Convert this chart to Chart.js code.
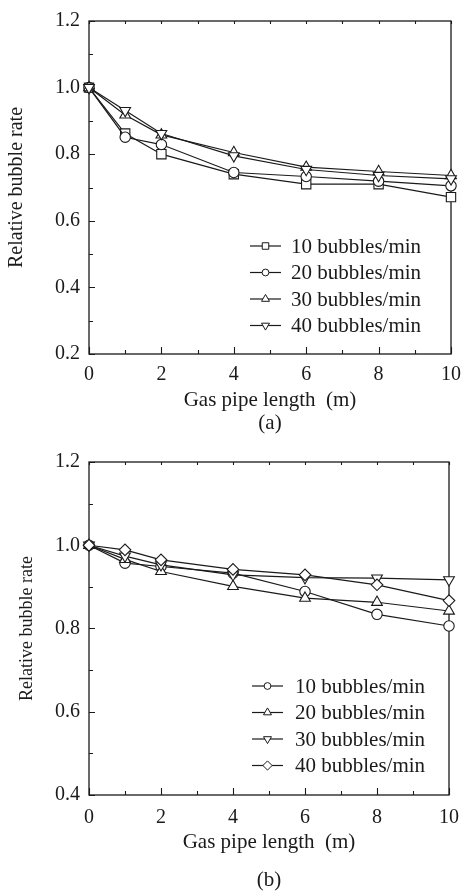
<!DOCTYPE html>
<html><head><meta charset="utf-8">
<script src="https://cdn.jsdelivr.net/npm/chart.js@4.4.1/dist/chart.umd.min.js"></script>
<style>
html,body{margin:0;padding:0;background:#fff;overflow:hidden;width:470px;height:895px;}
canvas{position:absolute;left:0;}
</style></head><body>
<canvas id="ca" width="470" height="440" style="top:0px"></canvas>
<canvas id="cb" width="470" height="470" style="top:430px"></canvas>
<script>
// ---------- data ----------
const xValues = [0, 1, 2, 4, 6, 8, 10];

const seriesLabelsA = ['10 bubbles/min', '20 bubbles/min', '30 bubbles/min', '40 bubbles/min'];
const a10 = [1.0, 0.862, 0.800, 0.740, 0.710, 0.710, 0.671];
const a20 = [1.0, 0.851, 0.829, 0.745, 0.733, 0.719, 0.705];
const a30 = [1.0, 0.918, 0.858, 0.805, 0.761, 0.748, 0.736];
const a40 = [1.0, 0.931, 0.862, 0.795, 0.754, 0.736, 0.726];

const seriesLabelsB = ['10 bubbles/min', '20 bubbles/min', '30 bubbles/min', '40 bubbles/min'];
const b10 = [1.0, 0.957, 0.949, 0.933, 0.889, 0.834, 0.806];
const b20 = [1.0, 0.966, 0.937, 0.901, 0.873, 0.863, 0.842];
const b30 = [1.0, 0.974, 0.953, 0.929, 0.922, 0.921, 0.917];
const b40 = [1.0, 0.989, 0.965, 0.942, 0.929, 0.905, 0.867];

const xTickLabels = [0, 2, 4, 6, 8, 10];
const yTickLabelsA = [0.2, 0.4, 0.6, 0.8, 1.0, 1.2];
const yTickLabelsB = [0.4, 0.6, 0.8, 1.0, 1.2];

const xTitle = 'Gas pipe length  (m)';
const yTitle = 'Relative bubble rate';
const panelA = '(a)';
const panelB = '(b)';

// ---------- styling ----------
const FONT = "'Liberation Serif','Times New Roman',serif";
const INK = '#1a1a1a';

function drawMarker(ctx, style, x, y, r) {
  ctx.beginPath();
  if (style === 'rect') {
    const s = r * Math.SQRT1_2;
    ctx.rect(x - s, y - s, 2 * s, 2 * s);
  } else if (style === 'circle') {
    ctx.arc(x, y, r, 0, Math.PI * 2);
  } else if (style === 'triUp') {
    ctx.moveTo(x, y - r);
    ctx.lineTo(x + r * 0.866, y + r / 2);
    ctx.lineTo(x - r * 0.866, y + r / 2);
    ctx.closePath();
  } else if (style === 'triDown') {
    ctx.moveTo(x, y + r);
    ctx.lineTo(x + r * 0.866, y - r / 2);
    ctx.lineTo(x - r * 0.866, y - r / 2);
    ctx.closePath();
  } else if (style === 'diamond') {
    ctx.moveTo(x, y - r);
    ctx.lineTo(x + r, y);
    ctx.lineTo(x, y + r);
    ctx.lineTo(x - r, y);
    ctx.closePath();
  }
  ctx.fill();
  ctx.stroke();
}

const frameTicks = {
  id: 'frameTicks',
  beforeDatasetsDraw(chart) {
    const ctx = chart.ctx;
    const a = chart.chartArea;
    const xs = chart.scales.x, ys = chart.scales.y;
    ctx.save();
    ctx.strokeStyle = INK;
    ctx.lineWidth = 1.3;
    ctx.strokeRect(a.left, a.top, a.right - a.left, a.bottom - a.top);
    ctx.lineWidth = 1.1;
    ctx.beginPath();
    // y ticks (left), every 0.1, major at 0.2
    for (let k = Math.round(ys.min * 10); k <= Math.round(ys.max * 10); k++) {
      const v = k / 10;
      const p = Math.round(ys.getPixelForValue(v)) + 0.5;
      const major = k % 2 === 0;
      ctx.moveTo(a.left, p);
      ctx.lineTo(a.left + (major ? 6 : 4), p);
    }
    // x ticks bottom & top, every 1, major at 2
    for (let k = Math.round(xs.min); k <= Math.round(xs.max); k++) {
      const p = Math.round(xs.getPixelForValue(k)) + 0.5;
      const major = k % 2 === 0;
      ctx.moveTo(p, a.bottom);
      ctx.lineTo(p, a.bottom - (major ? 7 : 4));
      ctx.moveTo(p, a.top);
      ctx.lineTo(p, a.top + 3);
    }
    ctx.stroke();
    ctx.restore();
  }
};

const lineLegend = {
  id: 'lineLegend',
  afterDraw(chart, args, opts) {
    const ctx = chart.ctx;
    ctx.save();
    ctx.font = opts.fontSize + 'px ' + FONT;
    ctx.textBaseline = 'middle';
    ctx.textAlign = 'left';
    chart.data.datasets.forEach((ds, i) => {
      const y = opts.y0 + i * opts.dy;
      ctx.strokeStyle = INK;
      ctx.lineWidth = 1.2;
      ctx.beginPath();
      ctx.moveTo(opts.x0, y);
      ctx.lineTo(opts.x1, y);
      ctx.stroke();
      ctx.fillStyle = '#fff';
      ctx.lineWidth = 1;
      const st = ds.markerKind;
      const r = st === 'circle' ? 3.4 : (st === 'rect' ? 4.6 : 4.6);
      drawMarker(ctx, st, (opts.x0 + opts.x1) / 2, y, r);
      ctx.fillStyle = INK;
      ctx.fillText(ds.label, opts.tx, y + 1);
    });
    ctx.restore();
  }
};

function makeDataset(label, values, kind, order) {
  const map = {
    rect: {pointStyle: 'rect', pointRadius: 6.6, pointRotation: 0},
    circle: {pointStyle: 'circle', pointRadius: 5.2, pointRotation: 0},
    triUp: {pointStyle: 'triangle', pointRadius: 6.2, pointRotation: 0},
    triDown: {pointStyle: 'triangle', pointRadius: 6.2, pointRotation: 180},
    diamond: {pointStyle: 'rectRot', pointRadius: 5.8, pointRotation: 0}
  };
  return Object.assign({
    label: label,
    markerKind: kind,
    data: xValues.map((x, i) => ({x: x, y: values[i]})),
    borderColor: INK,
    borderWidth: 1.2,
    pointBackgroundColor: '#fff',
    pointBorderColor: INK,
    pointBorderWidth: 1.1,
    tension: 0,
    fill: false,
    clip: false,
    order: order
  }, map[kind]);
}

function makeChart(canvasId, datasets, yMin, yMax, yTicks, panel, cfg) {
  return new Chart(document.getElementById(canvasId), {
    type: 'line',
    data: {datasets: datasets},
    plugins: [frameTicks, lineLegend],
    options: {
      responsive: false,
      animation: false,
      devicePixelRatio: 1,
      layout: {padding: cfg.padding},
      plugins: {
        legend: {display: false},
        tooltip: {enabled: false},
        lineLegend: cfg.legend
      },
      scales: {
        x: {
          type: 'linear', min: 0, max: 10,
          afterBuildTicks: s => { s.ticks = xTickLabels.map(v => ({value: v})); },
          afterFit: s => { s.height = cfg.xHeight; },
          grid: {display: false, drawTicks: false},
          border: {display: false},
          ticks: {
            autoSkip: false, maxRotation: 0,
            padding: cfg.xTickPad,
            color: INK,
            font: {family: FONT, size: 20, lineHeight: 1.2},
            callback: v => String(v)
          },
          title: {
            display: true,
            text: [xTitle, panel],
            color: INK,
            font: {family: FONT, size: 21, lineHeight: cfg.xTitleLH + 'px'},
            padding: {top: 0, bottom: 0}
          }
        },
        y: {
          type: 'linear', min: yMin, max: yMax,
          afterBuildTicks: s => { s.ticks = yTicks.map(v => ({value: v})); },
          afterFit: s => { s.width = 89; },
          grid: {display: false, drawTicks: false},
          border: {display: false},
          ticks: {
            padding: 9,
            color: INK,
            font: {family: FONT, size: 20, lineHeight: 1.2},
            callback: v => Number(v).toFixed(1)
          },
          title: {
            display: true,
            text: yTitle,
            color: INK,
            font: {family: FONT, size: cfg.yTitleSize, lineHeight: 1.2},
            padding: {top: cfg.yTitlePad, bottom: 0}
          }
        }
      }
    }
  });
}

makeChart('ca', [
  makeDataset(seriesLabelsA[0], a10, 'rect', 3),
  makeDataset(seriesLabelsA[1], a20, 'circle', 2),
  makeDataset(seriesLabelsA[2], a30, 'triUp', 1),
  makeDataset(seriesLabelsA[3], a40, 'triDown', 0)
], 0.2, 1.2, yTickLabelsA, panelA, {
  padding: {left: 0, right: 15, top: 14, bottom: 5},
  xHeight: 81, xTickPad: 9, xTitleLH: 23,
  yTitleSize: 20, yTitlePad: 5,
  legend: {x0: 250, x1: 281, tx: 291, y0: 246, dy: 26.5, fontSize: 21}
});

makeChart('cb', [
  makeDataset(seriesLabelsB[0], b10, 'circle', 3),
  makeDataset(seriesLabelsB[1], b20, 'triUp', 2),
  makeDataset(seriesLabelsB[2], b30, 'triDown', 1),
  makeDataset(seriesLabelsB[3], b40, 'diamond', 0)
], 0.4, 1.2, yTickLabelsB, panelB, {
  padding: {left: 0, right: 15, top: 32, bottom: 1},
  xHeight: 104, xTickPad: 11, xTitleLH: 38,
  yTitleSize: 18, yTitlePad: 16,
  legend: {x0: 252, x1: 283, tx: 295, y0: 256, dy: 26.5, fontSize: 21}
});
</script>
</body></html>
